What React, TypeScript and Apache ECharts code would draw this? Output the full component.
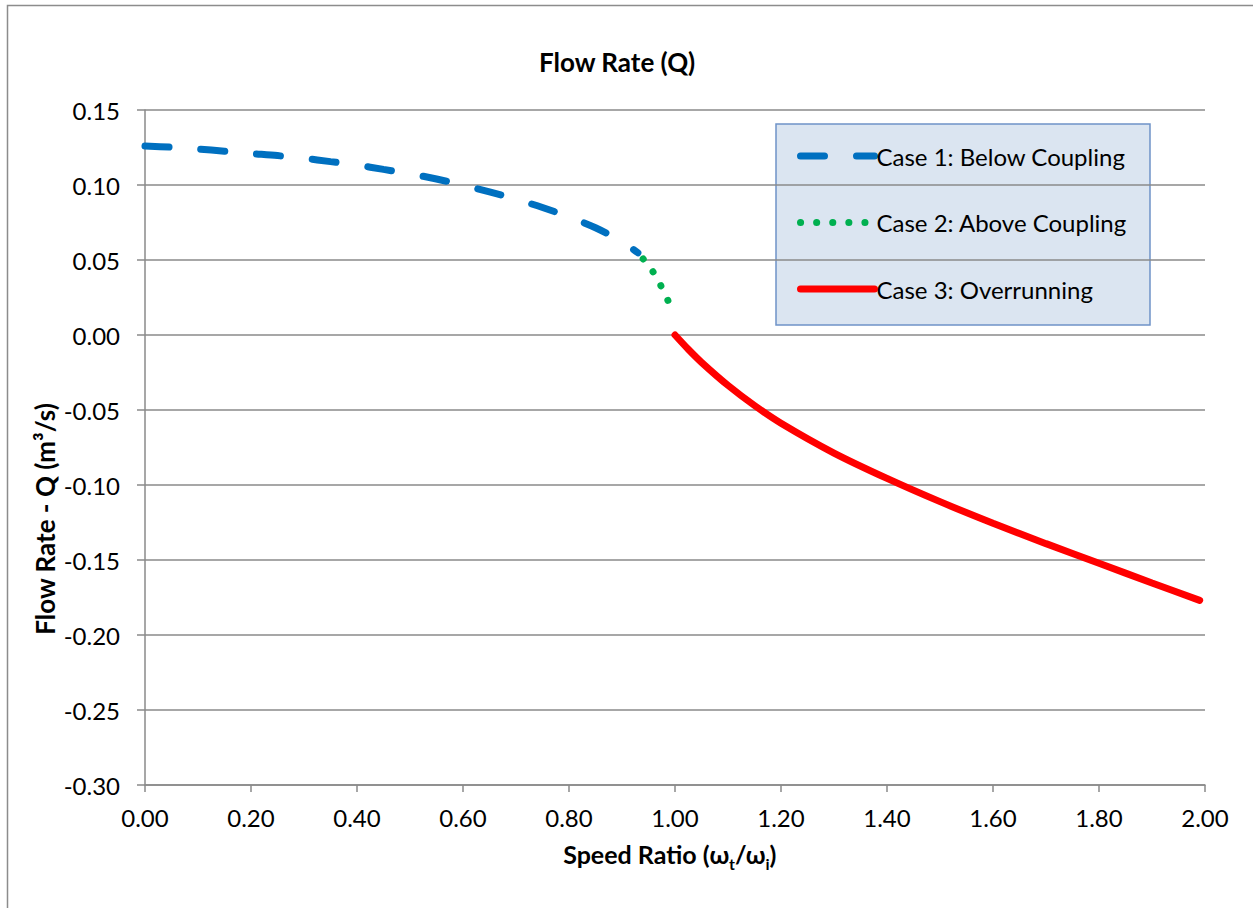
import React, { useEffect, useRef } from "react";
import * as echarts from "echarts";

const case1X = [0, 0.05, 0.1, 0.15, 0.2, 0.25, 0.3, 0.35, 0.4, 0.45, 0.5, 0.55, 0.6, 0.65, 0.7, 0.75, 0.8, 0.85, 0.9, 0.93];
const case1Q = [0.126, 0.1252, 0.124, 0.1225, 0.121, 0.1196, 0.1178, 0.1156, 0.1133, 0.1104, 0.1075, 0.104, 0.0999, 0.0954, 0.0905, 0.085, 0.0787, 0.0715, 0.0622, 0.0548];

const case2X = [0.94, 0.95, 0.96, 0.97, 0.98, 0.99];
const case2Q = [0.0507, 0.0465, 0.0413, 0.0352, 0.028, 0.0205];

const case3X = [1.0, 1.025, 1.05, 1.1, 1.15, 1.2, 1.3, 1.4, 1.5, 1.6, 1.7, 1.8, 1.9, 1.99];
const case3Q = [0, -0.0095, -0.0182, -0.0336, -0.047, -0.0588, -0.0787, -0.0956, -0.1111, -0.1255, -0.1391, -0.1522, -0.1653, -0.1769];

const seriesNames = ["Case 1: Below Coupling", "Case 2: Above Coupling", "Case 3: Overrunning"];
const titleText = "Flow Rate (Q)";
const yAxisTitle = "Flow Rate - Q (m³/s)";

const FONT = "Lato, 'Open Sans', sans-serif";

const pairs = (xs: number[], ys: number[]) => xs.map((x, i) => [x, ys[i]]);

export default function App() {
  const ref = useRef<HTMLDivElement>(null);
  useEffect(() => {
    document.body.style.margin = "0";
    const chart = echarts.init(ref.current!, undefined, { renderer: "svg" });
    const grayLine = { color: "#8a8a8a", width: 1.5 };
    chart.setOption({
      animation: false,
      backgroundColor: "#ffffff",
      textStyle: { fontFamily: FONT },
      grid: { left: 145, right: 48, top: 110, bottom: 123, containLabel: false },
      xAxis: {
        type: "value",
        min: 0,
        max: 2,
        interval: 0.2,
        position: "bottom",
        axisLine: { show: true, onZero: false, lineStyle: grayLine },
        axisTick: { show: true, length: 7, lineStyle: grayLine },
        splitLine: { show: false },
        axisLabel: {
          margin: 20,
          fontSize: 24,
          color: "#000",
          fontFamily: FONT,
          formatter: (v: number) => v.toFixed(2),
        },
      },
      yAxis: {
        type: "value",
        min: -0.3,
        max: 0.15,
        interval: 0.05,
        axisLine: { show: true, lineStyle: grayLine },
        axisTick: { show: true, length: 8, lineStyle: grayLine },
        splitLine: { show: true, lineStyle: grayLine },
        axisLabel: {
          margin: 25,
          fontSize: 24,
          color: "#000",
          fontFamily: FONT,
          formatter: (v: number) => v.toFixed(2),
        },
      },
      legend: {
        orient: "vertical",
        left: 797,
        top: 144,
        padding: 0,
        itemGap: 42.5,
        itemWidth: 74,
        itemHeight: 2,
        itemStyle: { opacity: 0, borderWidth: 0 },
        lineStyle: { width: 7, cap: "round" },
        textStyle: { fontSize: 24, color: "#000", fontFamily: FONT, padding: [0, 0, 0, -3] },
        data: seriesNames,
      },
      graphic: [
        {
          type: "rect",
          z: -1,
          shape: { x: 776, y: 124, width: 374, height: 201 },
          style: { fill: "#dbe5f1", stroke: "#6f93c8", lineWidth: 1.5 },
        },
        {
          type: "polyline",
          shape: { points: [[7.5, 908], [7.5, 5.5], [1253, 5.5]] },
          style: { stroke: "#8c8c8c", lineWidth: 1.5, fill: "none" },
        },
        {
          type: "text",
          x: 617,
          y: 62,
          style: {
            text: titleText,
            fontSize: 26,
            fontWeight: "bold",
            fontFamily: FONT,
            fill: "#000",
            align: "center",
            verticalAlign: "middle",
          },
        },
        {
          type: "text",
          x: 45,
          y: 519,
          rotation: Math.PI / 2,
          style: {
            text: yAxisTitle,
            fontSize: 26,
            fontWeight: "bold",
            fontFamily: FONT,
            fill: "#000",
            align: "center",
            verticalAlign: "middle",
          },
        },
        {
          type: "text",
          x: 670,
          y: 856,
          style: {
            text: "{a|Speed Ratio (ω}{s|t}{a|/ω}{s|i}{a|)}",
            fontFamily: FONT,
            fill: "#000",
            align: "center",
            verticalAlign: "middle",
            rich: {
              a: { fontSize: 25, fontWeight: "bold", fontFamily: FONT, lineHeight: 30, verticalAlign: "top" },
              s: { fontSize: 16, fontWeight: "bold", fontFamily: FONT, lineHeight: 17, verticalAlign: "bottom" },
            },
          },
        },
      ],
      series: [
        {
          name: seriesNames[0],
          type: "line",
          data: pairs(case1X, case1Q),
          showSymbol: false,
          symbol: "none",
          smooth: 0.3,
          color: "#0070c0",
          lineStyle: { color: "#0070c0", width: 7, type: [24, 32], cap: "round" },
          z: 3,
        },
        {
          name: seriesNames[1],
          type: "line",
          data: pairs(case2X, case2Q),
          showSymbol: false,
          symbol: "none",
          smooth: 0.3,
          color: "#00b050",
          lineStyle: { color: "#00b050", width: 7, type: [0.1, 16], cap: "round" },
          z: 3,
        },
        {
          name: seriesNames[2],
          type: "line",
          data: pairs(case3X, case3Q),
          showSymbol: false,
          symbol: "none",
          smooth: 0.3,
          color: "#ff0000",
          lineStyle: { color: "#ff0000", width: 7, cap: "round" },
          z: 3,
        },
      ],
    });
    return () => chart.dispose();
  }, []);
  return <div ref={ref} style={{ width: 1253, height: 908 }} />;
}
